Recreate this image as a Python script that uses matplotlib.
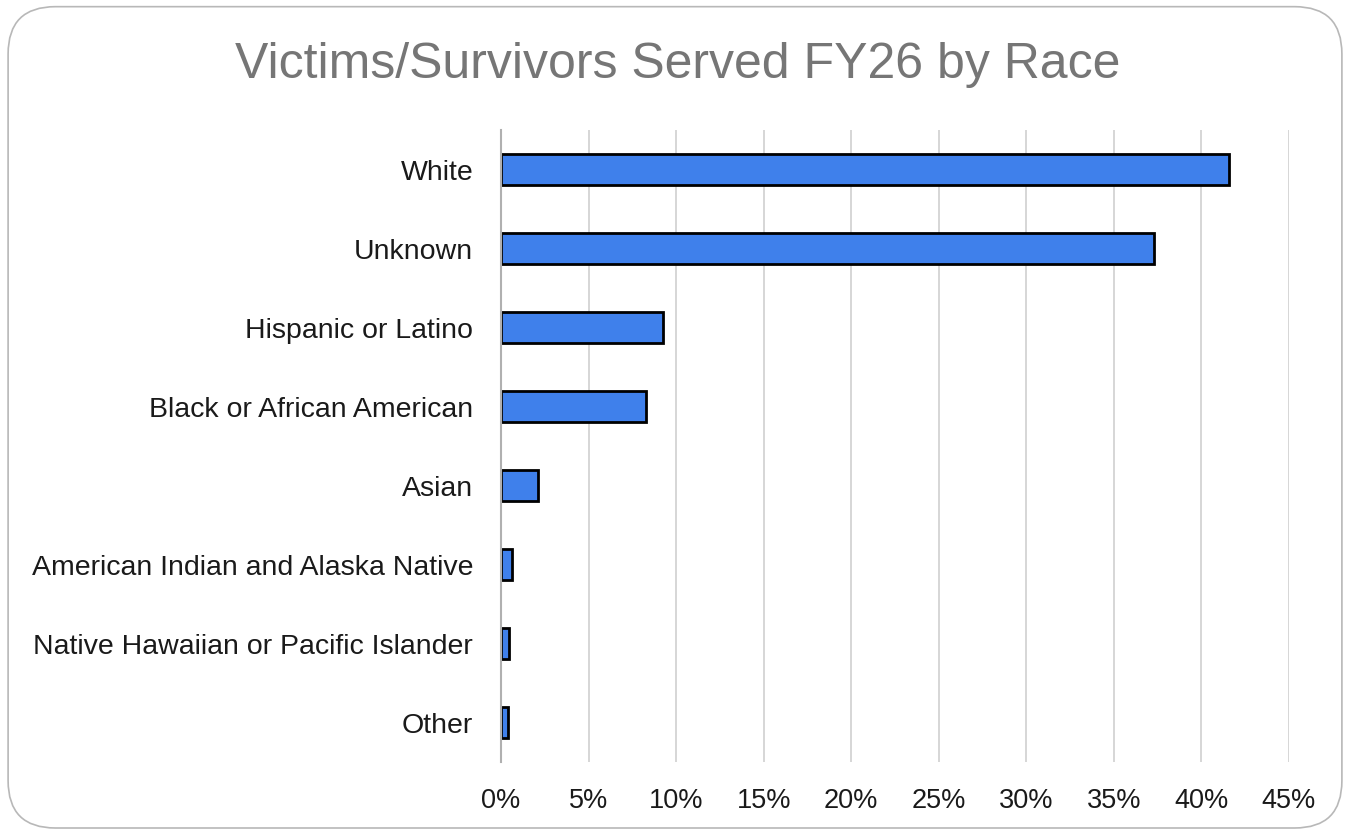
import matplotlib
matplotlib.use("Agg")
import matplotlib.pyplot as plt
from matplotlib.patches import FancyBboxPatch
from matplotlib.ticker import PercentFormatter

categories = ["White", "Unknown", "Hispanic or Latino", "Black or African American",
              "Asian", "American Indian and Alaska Native",
              "Native Hawaiian or Pacific Islander", "Other"]
percents = [41.6, 37.3, 9.25, 8.3, 2.1, 0.65, 0.47, 0.4]

plt.rcParams["font.family"] = ["Liberation Sans", "DejaVu Sans"]

fig = plt.figure(figsize=(13.5, 8.33), dpi=100)
border = FancyBboxPatch((0.006, 0.006), 0.988, 0.986,
                        boxstyle="round,pad=0,rounding_size=0.035",
                        transform=fig.transFigure, facecolor="none",
                        edgecolor="#b8b8b8", linewidth=1.2, mutation_aspect=1.62,
                        zorder=-1)
fig.patches.append(border)

ax = fig.add_axes([0.3711, 0.0852, 0.5837, 0.7587])
ax.set_facecolor("none")
y = list(range(len(categories)))
ax.barh(y, percents, height=0.4, color="#3f80eb", edgecolor="black", linewidth=2, zorder=3)
ax.set_yticks(y)
ax.set_yticklabels(categories, fontsize=20.5, color="#1a1a1a")
ax.set_ylim(len(categories) - 0.5, -0.5)
ax.set_xlim(0, 45)
ax.set_xticks(range(0, 46, 5))
ax.xaxis.set_major_formatter(PercentFormatter(decimals=0))
ax.tick_params(axis="x", labelsize=19.5, labelcolor="#1a1a1a", length=0, pad=19)
ax.tick_params(axis="y", length=0, pad=20)
ax.grid(axis="x", color="#d0d0d0", linewidth=1.2, zorder=0)
for s in ["top", "right", "bottom"]:
    ax.spines[s].set_visible(False)
ax.spines["left"].set_color("#b0b0b0")
ax.spines["left"].set_linewidth(1.5)
ax.spines["left"].set_zorder(4)

fig.text(0.502, 0.922, "Victims/Survivors Served FY26 by Race", ha="center", va="center",
         fontsize=36, color="#767676")

fig.savefig("out.png", dpi=100)
